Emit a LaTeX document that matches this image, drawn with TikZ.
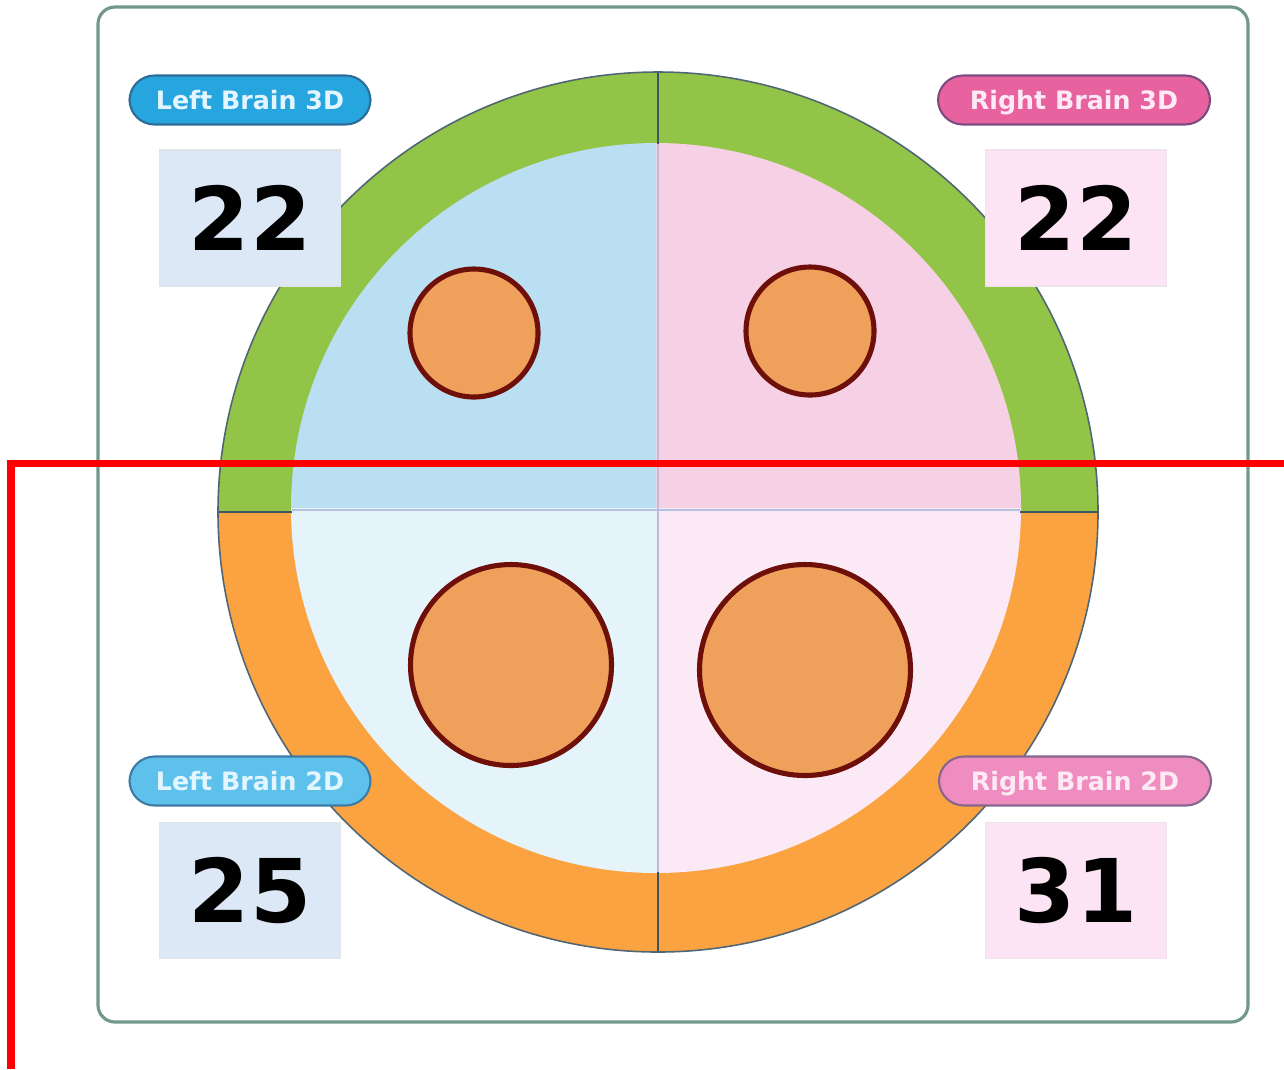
\documentclass[tikz,border=0pt]{standalone}
\usepackage{fontspec}
\setmainfont{DejaVu Sans}
\usepackage{tikz}
\definecolor{verdeanillo}{HTML}{92C447}
\definecolor{naranjaanillo}{HTML}{FBA341}
\definecolor{cuadsi}{HTML}{BADFF2}
\definecolor{cuadsd}{HTML}{F6D1E5}
\definecolor{cuadii}{HTML}{E5F3FB}
\definecolor{cuadid}{HTML}{FBE9F5}
\definecolor{bolarelleno}{HTML}{EFA05B}
\definecolor{bolaborde}{HTML}{6E0F0A}
\definecolor{divoscuro}{HTML}{3E5566}
\definecolor{divtenue}{HTML}{B3C0DF}
\definecolor{marcoverde}{HTML}{72988A}
\definecolor{azul3d}{HTML}{27A5DE}
\definecolor{azul3dborde}{HTML}{2D6C95}
\definecolor{azul2d}{HTML}{5DC1EC}
\definecolor{azul2dborde}{HTML}{3D7BA4}
\definecolor{rosa3d}{HTML}{E862A0}
\definecolor{rosa3dborde}{HTML}{7B4C7F}
\definecolor{rosa2d}{HTML}{F08DC0}
\definecolor{rosa2dborde}{HTML}{86668F}
\definecolor{textoazul}{HTML}{E3F6FF}
\definecolor{textorosa}{HTML}{FDEAF4}
\definecolor{cajaazul}{HTML}{DCE8F5}
\definecolor{cajarosa}{HTML}{FCE4F4}
\tikzset{
  marco/.style={draw=marcoverde,line width=0.9pt,rounded corners=1.7mm},
  divisor/.style={draw=divoscuro,line width=0.6pt},
  divfino/.style={draw=divtenue,line width=0.5pt},
  contorno/.style={draw=divoscuro!90,line width=0.45pt},
  bola/.style={circle,draw=bolaborde,fill=bolarelleno,line width=1.45pt,inner sep=0pt},
  etiqueta/.style={rounded corners=2.5mm,line width=0.6pt,minimum height=4.9mm,inner sep=0pt,text height=6.5pt,text depth=1.25pt,font=\fontsize{7.2}{8}\selectfont\bfseries},
  etiazul/.style={etiqueta,minimum width=24.1mm,fill=#1,draw=#1borde,text=textoazul},
  etirosa/.style={etiqueta,minimum width=27.2mm,fill=#1,draw=#1borde,text=textorosa},
  caja/.style={fill=#1,draw=#1!80!gray!60,line width=0.3pt,minimum width=18.1mm,minimum height=13.6mm,inner sep=0pt,font=\fontsize{25}{28}\selectfont\bfseries},
  lineroja/.style={draw=red,line width=2pt},
}
\begin{document}
\begin{tikzpicture}[x=0.1mm,y=-0.1mm]
\useasboundingbox (0,0) rectangle (1284,1069);
\coordinate (o) at (658,512);
\coordinate (oi) at (656,508);
\draw[marco] (98,7) rectangle (1248,1022);
\fill[verdeanillo] (o) ++(180:440) arc[start angle=180,end angle=360,radius=440] -- cycle;
\fill[naranjaanillo] (o) ++(0:440) arc[start angle=0,end angle=180,radius=440] -- cycle;
\fill[cuadsi] (oi) -- ++(180:365) arc[start angle=180,end angle=270,radius=365] -- cycle;
\fill[cuadsd] (oi) -- ++(270:365) arc[start angle=270,end angle=360,radius=365] -- cycle;
\fill[cuadid] (oi) -- ++(0:365) arc[start angle=0,end angle=90,radius=365] -- cycle;
\fill[cuadii] (oi) -- ++(90:365) arc[start angle=90,end angle=180,radius=365] -- cycle;
\draw[divfino] (658,144) -- (658,872);
\draw[divfino] (292,510) -- (1020,510);
\draw[divisor] (658,72) -- (658,144);
\draw[divisor] (658,872) -- (658,952);
\draw[divisor] (219,512) -- (292,512);
\draw[divisor] (1020,512) -- (1097,512);
\draw[contorno] (o) circle[radius=440];
\node[bola,minimum size=12.8mm] (b1) at (474,333) {};
\node[bola,minimum size=12.8mm] (b2) at (810,331) {};
\node[bola,minimum size=20.1mm] (b3) at (511,665) {};
\node[bola,minimum size=21.1mm] (b4) at (805,670) {};
\coordinate (e1) at (250,100);
\coordinate (e2) at (1074,100);
\coordinate (e3) at (250,781);
\coordinate (e4) at (1075,781);
\node[etiazul=azul3d] (l1) at (e1) {Left Brain 3D};
\node[etirosa=rosa3d] (l2) at (e2) {Right Brain 3D};
\node[etiazul=azul2d] (l3) at (e3) {Left Brain 2D};
\node[etirosa=rosa2d] (l4) at (e4) {Right Brain 2D};
\node[caja=cajaazul] (n1) at (250,218) {22};
\node[caja=cajarosa] (n2) at (1076,218) {22};
\node[caja=cajaazul] (n3) at (250,890) {25};
\node[caja=cajarosa] (n4) at (1076,890) {31};
\coordinate (r1) at (11,1069);
\coordinate (r2) at (11,463);
\coordinate (r3) at (1284,463);
\draw[lineroja] (r1) -- (r2) -- (r3);
\end{tikzpicture}
\end{document}
